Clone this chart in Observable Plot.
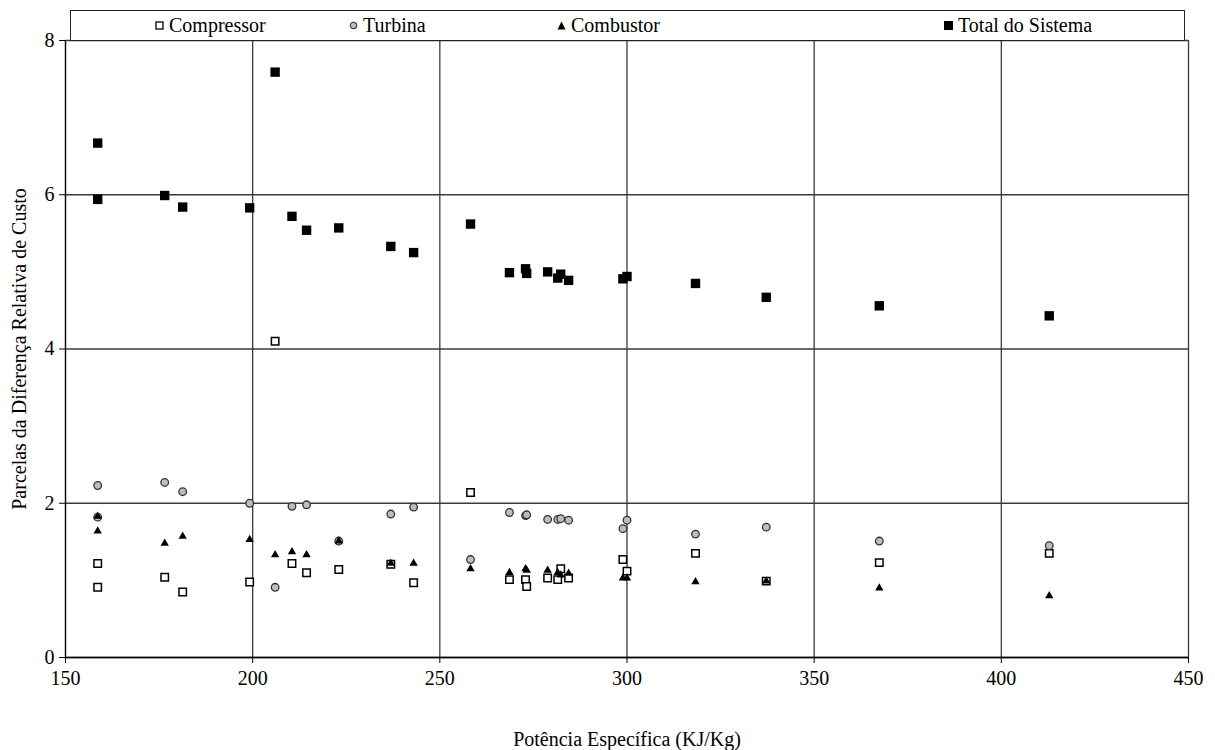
<!DOCTYPE html>
<html><head><meta charset="utf-8">
<script src="https://cdn.jsdelivr.net/npm/d3@7"></script>
<script src="https://cdn.jsdelivr.net/npm/@observablehq/plot@0.6"></script>
<style>
body{margin:0;background:#fff;font-family:"Liberation Serif","Times New Roman",serif;}
#wrap{position:relative;width:1215px;height:750px;}
#legend{position:absolute;left:70px;top:10px;width:1113px;height:29px;border:1px solid #222;background:#fff;font-size:20px;color:#000;}
.item{position:absolute;top:0;height:29px;display:flex;align-items:center;white-space:nowrap;}
.item svg{margin-right:5px;}
</style></head><body>
<div id="wrap"><div id="chart"></div><div id="legend"></div></div>
<script>
// Potência Específica (KJ/Kg)
const potencia = [158.6, 158.6, 176.5, 181.3, 199.2, 206.0, 210.5, 214.4, 223.0, 236.9, 243.0, 258.2, 268.6, 272.9, 273.2, 278.8, 281.5, 282.3, 284.4, 298.9, 300.0, 318.3, 337.2, 367.4, 412.8];
const compressor = [1.22, 0.91, 1.04, 0.85, 0.98, 4.10, 1.22, 1.10, 1.14, 1.21, 0.97, 2.14, 1.01, 1.01, 0.92, 1.03, 1.01, 1.15, 1.03, 1.27, 1.12, 1.35, 0.99, 1.23, 1.35];
const turbina = [2.23, 1.82, 2.27, 2.15, 2.00, 0.91, 1.96, 1.98, 1.51, 1.86, 1.95, 1.27, 1.88, 1.84, 1.85, 1.79, 1.79, 1.80, 1.78, 1.67, 1.78, 1.60, 1.69, 1.51, 1.45];
const combustor = [1.83, 1.64, 1.48, 1.57, 1.53, 1.33, 1.37, 1.33, 1.51, 1.22, 1.22, 1.15, 1.10, 1.15, 1.13, 1.13, 1.10, 1.07, 1.09, 1.03, 1.03, 0.98, 0.99, 0.90, 0.80];
const totalSistema = [6.67, 5.94, 5.99, 5.84, 5.83, 7.59, 5.72, 5.54, 5.57, 5.33, 5.25, 5.62, 4.99, 5.04, 4.98, 5.00, 4.92, 4.97, 4.89, 4.91, 4.94, 4.85, 4.67, 4.56, 4.43];

const seriesNames = ["Compressor", "Turbina", "Combustor", "Total do Sistema"];
const xTicks = [150, 200, 250, 300, 350, 400, 450];
const yTicks = [0, 2, 4, 6, 8];

const toRows = (vals) => potencia.map((x, i) => ({x, y: vals[i]}));
const rowsComp = toRows(compressor);
const rowsTurb = toRows(turbina);
const rowsComb = toRows(combustor);
const rowsTotal = toRows(totalSistema);

const chart = Plot.plot({
  width: 1215,
  height: 750,
  marginLeft: 65,
  marginRight: 27,
  marginTop: 40,
  marginBottom: 93,
  style: {fontFamily: "'Liberation Serif','Times New Roman',serif", fontSize: "20px", color: "#000", background: "#fff"},
  x: {domain: [150, 450], ticks: xTicks},
  y: {domain: [0, 8], ticks: yTicks},
  marks: [
    Plot.gridX(xTicks, {stroke: "#3a3a3a", strokeOpacity: 1, strokeWidth: 1.3}),
    Plot.gridY(yTicks, {stroke: "#3a3a3a", strokeOpacity: 1, strokeWidth: 1.3}),
    Plot.ruleY([0], {stroke: "#000", strokeWidth: 1.5}),
    Plot.ruleX([150], {stroke: "#000", strokeWidth: 1.2}),
    Plot.axisX({ticks: xTicks, tickSize: 6, tickPadding: 7, label: "Potência Específica (KJ/Kg)", labelAnchor: "center", labelOffset: 88, labelArrow: "none"}),
    Plot.axisY({ticks: yTicks, tickSize: 6, tickPadding: 5, label: "Parcelas da Diferença Relativa de Custo", labelAnchor: "center", labelOffset: 54, labelArrow: "none"}),
    Plot.dot(rowsComp, {x: "x", y: "y", symbol: "square", r: 4.2, fill: "#fff", stroke: "#000", strokeWidth: 1.5}),
    Plot.dot(rowsTurb, {x: "x", y: "y", symbol: "circle", r: 3.8, fill: "#bdbdbd", stroke: "#333", strokeWidth: 1.3}),
    Plot.dot(rowsComb, {x: "x", y: "y", symbol: "triangle", r: 3.1, fill: "#000", stroke: "none"}),
    Plot.dot(rowsTotal, {x: "x", y: "y", symbol: "square", r: 5.3, fill: "#000", stroke: "none"})
  ]
});
document.getElementById("chart").appendChild(chart);

// legend
const legendMarkers = {
  "Compressor": '<svg width="9" height="9"><rect x="1" y="1" width="7" height="7" fill="#fff" stroke="#000" stroke-width="1.3"/></svg>',
  "Turbina": '<svg width="9" height="9"><circle cx="4.5" cy="4.5" r="3.2" fill="#bdbdbd" stroke="#333" stroke-width="1.1"/></svg>',
  "Combustor": '<svg width="9" height="9"><path d="M4.5,0.5L8.5,8.5L0.5,8.5Z" fill="#000"/></svg>',
  "Total do Sistema": '<svg width="9" height="9"><rect x="0" y="0" width="9" height="9" fill="#000"/></svg>'
};
const legendLeft = [84, 278, 486, 873];
const leg = document.getElementById("legend");
seriesNames.forEach((name, i) => {
  const d = document.createElement("div");
  d.className = "item";
  d.style.left = legendLeft[i] + "px";
  d.innerHTML = legendMarkers[name] + "<span>" + name + "</span>";
  leg.appendChild(d);
});
</script>
</body></html>
